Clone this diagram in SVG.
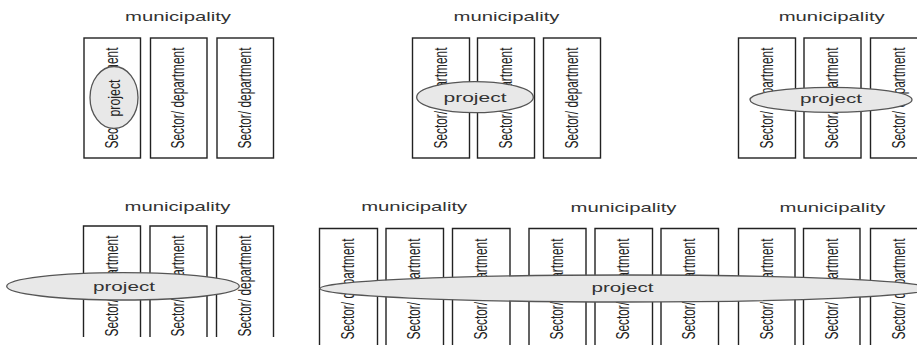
<svg xmlns="http://www.w3.org/2000/svg" width="917" height="345" viewBox="0 0 917 345">
<style>
.mun{font-family:"Liberation Sans",Arial,sans-serif;font-size:13px;fill:#333;text-anchor:middle}
.sec{font-family:"Liberation Sans",Arial,sans-serif;font-size:18px;fill:#222;text-anchor:middle}
.prj{font-family:"Liberation Sans",Arial,sans-serif;font-size:13px;fill:#333;text-anchor:middle}
.box{fill:#fff;stroke:#222;stroke-width:1.4}
.open{fill:none;stroke:#222;stroke-width:1.4}
.ell{fill:#e8e8e8;stroke:#555;stroke-width:1.3}
</style>
<defs>
<clipPath id="c4"><rect x="0" y="0" width="300" height="337"/></clipPath>
</defs>
<rect width="917" height="345" fill="#fff"/>

<!-- Top row, group 1 -->
<g id="municipality-1">
<text class="mun" x="178" y="21" textLength="106" lengthAdjust="spacingAndGlyphs">municipality</text>
<g id="sector-1-1"><rect class="box" x="84" y="38" width="56.5" height="120"/><text class="sec" transform="translate(117.8,98) rotate(-90)" textLength="101" lengthAdjust="spacingAndGlyphs">Sector/ department</text></g>
<g id="sector-1-2"><rect class="box" x="150.5" y="38" width="56.5" height="120"/><text class="sec" transform="translate(184.3,98) rotate(-90)" textLength="101" lengthAdjust="spacingAndGlyphs">Sector/ department</text></g>
<g id="sector-1-3"><rect class="box" x="217" y="38" width="56.5" height="120"/><text class="sec" transform="translate(250.8,98) rotate(-90)" textLength="101" lengthAdjust="spacingAndGlyphs">Sector/ department</text></g>
<g id="project-1"><ellipse class="ell" cx="114" cy="97.5" rx="24" ry="31"/><text class="sec" style="font-size:17px" transform="translate(120,98) rotate(-90)" textLength="37" lengthAdjust="spacingAndGlyphs">project</text></g>
</g>

<!-- Top row, group 2 -->
<g id="municipality-2">
<text class="mun" x="506.5" y="21" textLength="106" lengthAdjust="spacingAndGlyphs">municipality</text>
<g id="sector-2-1"><rect class="box" x="412.5" y="38" width="57" height="120"/><text class="sec" transform="translate(446.5,98) rotate(-90)" textLength="101" lengthAdjust="spacingAndGlyphs">Sector/ department</text></g>
<g id="sector-2-2"><rect class="box" x="477.5" y="38" width="57" height="120"/><text class="sec" transform="translate(511.5,98) rotate(-90)" textLength="101" lengthAdjust="spacingAndGlyphs">Sector/ department</text></g>
<g id="sector-2-3"><rect class="box" x="543.5" y="38" width="57" height="120"/><text class="sec" transform="translate(577.5,98) rotate(-90)" textLength="101" lengthAdjust="spacingAndGlyphs">Sector/ department</text></g>
<g id="project-2"><ellipse class="ell" cx="475" cy="97.2" rx="58.3" ry="15.5"/><text class="prj" x="475" y="101.7" textLength="63" lengthAdjust="spacingAndGlyphs">project</text></g>
</g>

<!-- Top row, group 3 -->
<g id="municipality-3">
<text class="mun" x="831.7" y="21" textLength="106" lengthAdjust="spacingAndGlyphs">municipality</text>
<g id="sector-3-1"><rect class="box" x="738.5" y="38" width="57" height="120"/><text class="sec" transform="translate(772.5,98) rotate(-90)" textLength="101" lengthAdjust="spacingAndGlyphs">Sector/ department</text></g>
<g id="sector-3-2"><rect class="box" x="804" y="38" width="57" height="120"/><text class="sec" transform="translate(838,98) rotate(-90)" textLength="101" lengthAdjust="spacingAndGlyphs">Sector/ department</text></g>
<g id="sector-3-3"><rect class="box" x="870.5" y="38" width="57" height="120"/><text class="sec" transform="translate(904.5,98) rotate(-90)" textLength="101" lengthAdjust="spacingAndGlyphs">Sector/ department</text></g>
<g id="project-3"><ellipse class="ell" cx="831" cy="99.8" rx="81" ry="12.5"/><text class="prj" x="831" y="103" textLength="62" lengthAdjust="spacingAndGlyphs">project</text></g>
</g>

<!-- Bottom row, group 4 -->
<g id="municipality-4">
<text class="mun" x="177.5" y="210.7" textLength="106" lengthAdjust="spacingAndGlyphs">municipality</text>
<g clip-path="url(#c4)">
<g id="sector-4-1"><path class="open" d="M83.5,337 V226 H140.5 V337"/><text class="sec" transform="translate(117.5,286) rotate(-90)" textLength="101" lengthAdjust="spacingAndGlyphs">Sector/ department</text></g>
<g id="sector-4-2"><path class="open" d="M150,337 V226 H207 V337"/><text class="sec" transform="translate(184,286) rotate(-90)" textLength="101" lengthAdjust="spacingAndGlyphs">Sector/ department</text></g>
<g id="sector-4-3"><path class="open" d="M216.5,337 V226 H273.5 V337"/><text class="sec" transform="translate(250.5,286) rotate(-90)" textLength="101" lengthAdjust="spacingAndGlyphs">Sector/ department</text></g>
</g>
<g id="project-4"><ellipse class="ell" cx="123" cy="286.3" rx="116.3" ry="13.7"/><text class="prj" x="124" y="290.5" textLength="62" lengthAdjust="spacingAndGlyphs">project</text></g>
</g>

<!-- Bottom row, groups 5-7 -->
<g id="municipality-5">
<text class="mun" x="414.2" y="211" textLength="106" lengthAdjust="spacingAndGlyphs">municipality</text>
<g id="sector-5-1"><path class="open" d="M319.5,346 V228.5 H377.5 V346"/><text class="sec" transform="translate(353.5,289) rotate(-90)" textLength="101" lengthAdjust="spacingAndGlyphs">Sector/ department</text></g>
<g id="sector-5-2"><path class="open" d="M386,346 V228.5 H443.5 V346"/><text class="sec" transform="translate(420,289) rotate(-90)" textLength="101" lengthAdjust="spacingAndGlyphs">Sector/ department</text></g>
<g id="sector-5-3"><path class="open" d="M452.5,346 V228.5 H510 V346"/><text class="sec" transform="translate(486.5,289) rotate(-90)" textLength="101" lengthAdjust="spacingAndGlyphs">Sector/ department</text></g>
</g>
<g id="municipality-6">
<text class="mun" x="623.5" y="211.5" textLength="106" lengthAdjust="spacingAndGlyphs">municipality</text>
<g id="sector-6-1"><path class="open" d="M529,346 V228.5 H586 V346"/><text class="sec" transform="translate(563,289) rotate(-90)" textLength="101" lengthAdjust="spacingAndGlyphs">Sector/ department</text></g>
<g id="sector-6-2"><path class="open" d="M595,346 V228.5 H652.5 V346"/><text class="sec" transform="translate(629,289) rotate(-90)" textLength="101" lengthAdjust="spacingAndGlyphs">Sector/ department</text></g>
<g id="sector-6-3"><path class="open" d="M661,346 V228.5 H718.5 V346"/><text class="sec" transform="translate(695,289) rotate(-90)" textLength="101" lengthAdjust="spacingAndGlyphs">Sector/ department</text></g>
</g>
<g id="municipality-7">
<text class="mun" x="832.5" y="211.5" textLength="106" lengthAdjust="spacingAndGlyphs">municipality</text>
<g id="sector-7-1"><path class="open" d="M738.5,346 V228.5 H795 V346"/><text class="sec" transform="translate(772.5,289) rotate(-90)" textLength="101" lengthAdjust="spacingAndGlyphs">Sector/ department</text></g>
<g id="sector-7-2"><path class="open" d="M803.5,346 V228.5 H860 V346"/><text class="sec" transform="translate(837.5,289) rotate(-90)" textLength="101" lengthAdjust="spacingAndGlyphs">Sector/ department</text></g>
<g id="sector-7-3"><path class="open" d="M870.5,346 V228.5 H927.5 V346"/><text class="sec" transform="translate(904.5,289) rotate(-90)" textLength="101" lengthAdjust="spacingAndGlyphs">Sector/ department</text></g>
</g>
<g id="project-5"><ellipse class="ell" cx="625" cy="288.5" rx="305" ry="13.5"/><text class="prj" x="622.5" y="292" textLength="62" lengthAdjust="spacingAndGlyphs">project</text></g>
</svg>
